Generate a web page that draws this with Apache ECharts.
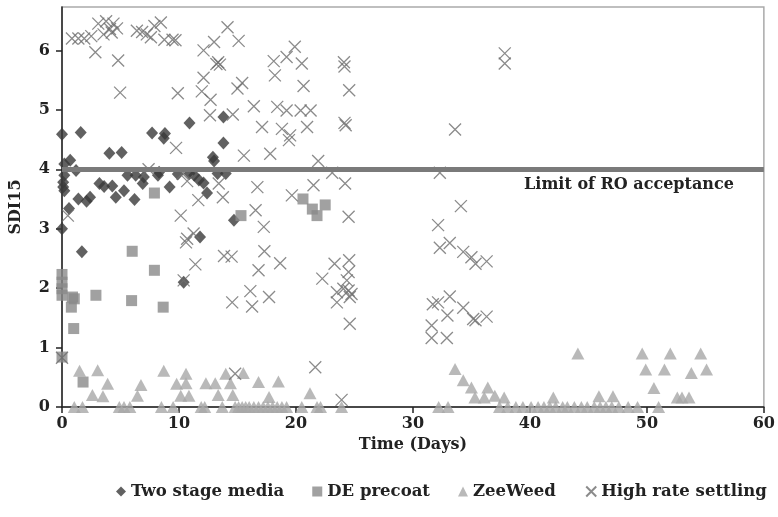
<!DOCTYPE html>
<html>
<head>
<meta charset="utf-8">
<script src="https://cdn.jsdelivr.net/npm/echarts@6/dist/echarts.min.js"></script>
<style>
  html, body { margin: 0; padding: 0; background: #fff; }
  #chart { width: 778px; height: 517px; }
</style>
</head>
<body>
<div id="chart"></div>
<script>
// 数据 (天, SDI15)
var twoStageMedia = [
  [0.0, 4.59], [1.6, 4.62], [7.7, 4.61], [8.8, 4.6], [8.7, 4.52], [10.9, 4.78], [13.8, 4.88], [13.8, 4.44],
  [4.05, 4.27], [5.1, 4.28], [0.7, 4.15], [0.2, 4.09], [12.9, 4.2], [13.0, 4.14],
  [0.2, 3.9], [0.1, 3.78], [0.1, 3.7], [0.2, 3.64], [1.2, 3.98], [3.2, 3.76], [3.6, 3.71], [4.3, 3.72],
  [5.6, 3.9], [6.3, 3.9], [7.0, 3.87], [6.9, 3.76], [8.2, 3.9], [8.3, 3.95], [9.2, 3.7], [9.9, 3.92],
  [10.9, 3.93], [11.3, 3.9], [11.7, 3.82], [12.1, 3.77], [12.4, 3.6], [13.3, 3.93], [14.0, 3.93],
  [1.4, 3.5], [2.1, 3.46], [2.4, 3.53], [4.6, 3.53], [5.3, 3.64], [6.2, 3.49], [0.6, 3.34], [0.0, 3.0],
  [1.7, 2.61], [11.8, 2.86], [10.4, 2.1], [14.7, 3.14]
];
var dePrecoat = [
  [0, 2.23], [0, 2.1], [0, 1.99], [0, 1.88], [0.9, 1.85], [0.8, 1.68], [1.05, 1.82], [1.0, 1.32],
  [2.9, 1.88], [6.0, 2.62], [5.95, 1.79], [7.9, 2.3], [8.65, 1.68], [0, 0.84], [1.8, 0.42], [7.9, 3.6],
  [15.3, 3.22], [20.6, 3.5], [21.4, 3.33], [21.8, 3.22], [22.5, 3.4]
];
var zeeWeed = [
  [1.5, 0.61], [3.05, 0.62], [3.9, 0.39], [2.6, 0.2], [3.5, 0.18], [6.75, 0.37], [6.45, 0.19], [8.7, 0.61],
  [9.8, 0.39], [10.6, 0.56], [10.6, 0.4], [10.15, 0.19], [10.85, 0.19], [12.3, 0.4], [13.1, 0.4], [14.0, 0.56],
  [13.35, 0.2], [14.4, 0.4], [14.6, 0.2], [15.5, 0.57], [16.8, 0.42], [18.5, 0.43], [17.7, 0.17], [21.2, 0.23],
  [33.6, 0.64], [34.3, 0.45], [35.0, 0.33], [35.3, 0.16], [36.1, 0.16], [36.4, 0.33], [37.0, 0.19], [37.8, 0.16],
  [42.0, 0.16], [44.1, 0.9], [49.6, 0.9], [52.0, 0.9], [54.6, 0.9], [49.9, 0.63], [51.5, 0.63], [53.8, 0.57],
  [55.1, 0.63], [50.6, 0.32], [52.6, 0.16], [53.0, 0.16], [53.6, 0.16], [45.9, 0.18], [47.1, 0.18],
  [1.05, 0], [1.75, 0], [4.9, 0], [5.3, 0], [5.8, 0], [8.5, 0], [9.5, 0], [11.9, 0], [12.2, 0], [13.7, 0],
  [14.8, 0], [15.1, 0], [15.4, 0], [15.7, 0], [16.0, 0], [16.4, 0], [16.8, 0], [17.2, 0], [17.6, 0], [18.0, 0],
  [18.4, 0], [18.8, 0], [19.2, 0], [20.5, 0], [21.8, 0], [22.1, 0], [23.9, 0], [32.2, 0], [33.0, 0],
  [37.4, 0], [38.1, 0], [38.8, 0], [39.4, 0], [40.1, 0], [40.7, 0], [41.2, 0], [41.7, 0], [42.2, 0], [42.8, 0],
  [43.2, 0], [43.8, 0], [44.4, 0], [44.9, 0], [45.5, 0], [46.0, 0], [46.5, 0], [47.0, 0], [47.6, 0], [48.4, 0],
  [49.2, 0], [51.0, 0]
];
var highRateSettling = [
  [0.85, 6.2], [1.4, 6.2], [1.9, 6.2], [2.5, 6.24], [2.85, 5.97], [3.1, 6.45], [3.55, 6.27], [3.77, 6.49],
  [4.1, 6.36], [4.4, 6.45], [4.7, 6.37], [4.25, 6.3], [4.8, 5.83], [4.97, 5.29], [6.4, 6.33], [6.85, 6.31],
  [7.25, 6.27], [7.6, 6.22], [7.9, 6.41], [8.45, 6.47], [8.75, 6.18], [9.45, 6.18], [9.9, 5.28],
  [9.7, 6.17], [12.1, 6.0], [13.0, 6.14], [14.15, 6.39], [15.1, 6.16],
  [13.2, 5.77], [13.35, 5.8], [13.5, 5.76],
  [12.1, 5.54], [11.95, 5.31], [12.7, 5.17], [12.65, 4.91], [14.6, 4.92], [15.4, 5.45], [15.0, 5.36],
  [16.4, 5.06], [17.1, 4.71], [15.55, 4.23], [17.8, 4.26], [9.75, 4.36],
  [18.1, 5.82], [19.2, 5.89], [19.9, 6.06], [20.5, 5.78], [18.2, 5.58], [20.65, 5.4],
  [18.4, 5.05], [19.2, 4.99], [20.4, 4.99], [21.25, 4.99], [18.8, 4.68], [19.5, 4.57], [19.4, 4.49], [20.95, 4.71],
  [24.1, 5.8], [24.15, 5.73], [24.55, 5.33], [24.15, 4.78], [24.25, 4.74],
  [21.9, 4.14], [23.1, 3.94], [24.2, 3.76],
  [10.7, 3.8], [11.65, 3.48], [13.4, 3.76], [13.75, 3.53], [16.7, 3.7], [21.5, 3.73], [19.65, 3.56],
  [7.4, 4.0], [10.3, 3.93],
  [0.5, 3.22], [10.15, 3.22], [16.55, 3.31], [17.25, 3.03], [24.5, 3.2],
  [10.7, 2.83], [11.25, 2.92], [10.6, 2.77], [11.4, 2.4], [10.4, 2.13],
  [13.85, 2.54], [14.5, 2.53], [17.3, 2.62], [18.65, 2.42], [16.8, 2.3], [16.1, 1.95], [17.7, 1.85], [14.55, 1.76], [16.25, 1.69],
  [23.3, 2.41], [24.55, 2.47], [22.25, 2.16], [24.5, 2.27], [24.35, 2.13], [23.5, 1.93], [24.05, 1.99], [24.5, 1.96],
  [24.75, 1.9], [24.6, 1.85], [23.5, 1.76], [24.6, 1.4],
  [21.65, 0.67], [23.9, 0.12], [14.8, 0.56], [0.0, 0.83],
  [37.85, 5.95], [37.85, 5.78], [33.6, 4.67], [32.3, 3.94], [34.1, 3.38], [32.15, 3.06], [32.3, 2.68], [33.15, 2.76],
  [34.3, 2.61], [35.0, 2.52], [35.35, 2.41], [36.3, 2.45], [31.7, 1.73], [32.15, 1.76], [33.15, 1.86], [32.95, 1.54],
  [34.3, 1.67], [35.15, 1.48], [35.35, 1.46], [36.3, 1.52], [31.6, 1.37], [31.6, 1.16], [32.9, 1.16]
];
var xTicks = [0, 10, 20, 30, 40, 50, 60];
var yTicks = [0, 1, 2, 3, 4, 5, 6];
var roLimit = 4;

var font = 'DejaVu Serif';
var crossPath = 'path://M0,0L10,10M10,0L0,10';

var myChart = echarts.init(document.getElementById('chart'));

var option = {
    animation: false,
    backgroundColor: '#fff',
    grid: {
        left: 62,
        right: 11,
        top: 7,
        bottom: 110,
        show: true,
        borderColor: '#aaa',
        borderWidth: 1.5
    },
    legend: {
        bottom: 12,
        left: 111,
        itemWidth: 10,
        itemHeight: 10,
        itemGap: 28,
        textStyle: {
            fontFamily: font,
            fontWeight: 'bold',
            fontSize: 16.5,
            color: '#222'
        },
        data: [
            {name: 'Two stage media', icon: 'diamond'},
            {name: 'DE precoat', icon: 'rect'},
            {name: 'ZeeWeed', icon: 'triangle'},
            {name: 'High rate settling', icon: crossPath}
        ]
    },
    xAxis: {
        type: 'value',
        min: 0,
        max: 60,
        interval: 10,
        name: 'Time (Days)',
        nameLocation: 'middle',
        nameGap: 26,
        nameTextStyle: {fontFamily: font, fontWeight: 'bold', fontSize: 16, color: '#222'},
        axisLine: {show: true, lineStyle: {color: '#222', width: 1.5}},
        axisTick: {show: true, length: 6, lineStyle: {color: '#222', width: 1.5}},
        axisLabel: {
            customValues: xTicks,
            margin: 9,
            fontFamily: font, fontWeight: 'bold', fontSize: 16, color: '#222'
        },
        splitLine: {show: false}
    },
    yAxis: {
        type: 'value',
        min: 0,
        max: 6.73,
        interval: 1,
        name: 'SDI15',
        nameLocation: 'middle',
        nameGap: 38,
        nameTextStyle: {fontFamily: font, fontWeight: 'bold', fontSize: 16, color: '#222'},
        axisLine: {show: true, lineStyle: {color: '#222', width: 1.5}},
        axisTick: {show: true, length: 6, customValues: yTicks, lineStyle: {color: '#222', width: 1.5}},
        axisLabel: {
            customValues: yTicks,
            margin: 12,
            fontFamily: font, fontWeight: 'bold', fontSize: 16, color: '#222'
        },
        splitLine: {show: false}
    },
    series: [{
        name: 'Two stage media',
        type: 'scatter',
        symbol: 'diamond',
        symbolSize: [12, 13],
        itemStyle: {color: '#3a3a3a'},
        data: twoStageMedia,
        markLine: {
            silent: true,
            symbol: ['none', 'none'],
            lineStyle: {color: '#7a7a7a', width: 5, type: 'solid'},
            label: {
                show: true,
                position: 'insideEndBottom',
                formatter: 'Limit of RO acceptance',
                distance: [30, 8],
                fontFamily: font,
                fontWeight: 'bold',
                fontSize: 16,
                color: '#222'
            },
            data: [{yAxis: roLimit}]
        }
    }, {
        name: 'DE precoat',
        type: 'scatter',
        symbol: 'rect',
        symbolSize: 11,
        itemStyle: {color: '#8a8a8a'},
        data: dePrecoat
    }, {
        name: 'ZeeWeed',
        type: 'scatter',
        symbol: 'triangle',
        symbolSize: [13, 12],
        itemStyle: {color: '#a8a8a8'},
        data: zeeWeed
    }, {
        name: 'High rate settling',
        type: 'scatter',
        symbol: crossPath,
        symbolSize: 12,
        itemStyle: {color: 'none', borderColor: '#6e6e6e', borderWidth: 1.3},
        data: highRateSettling
    }]
};

myChart.setOption(option);
</script>
</body>
</html>
